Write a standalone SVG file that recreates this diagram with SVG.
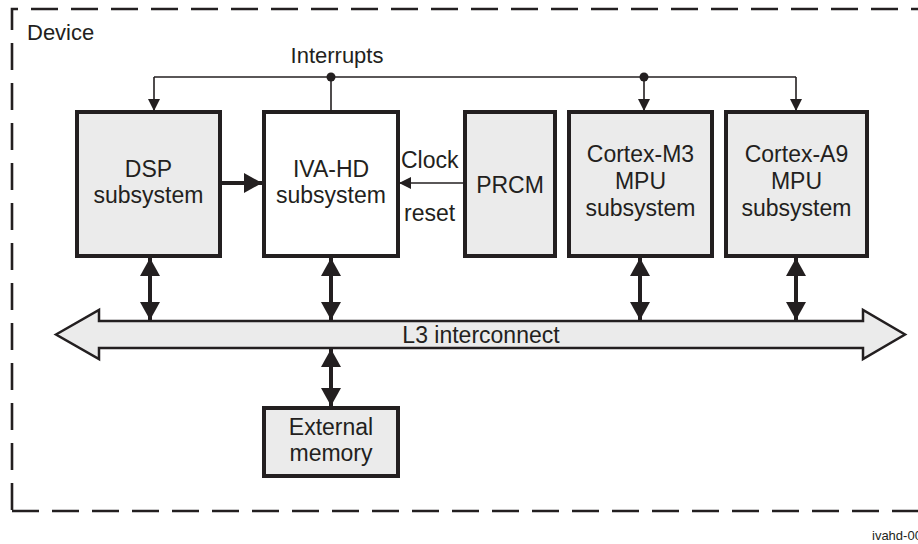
<svg xmlns="http://www.w3.org/2000/svg" width="918" height="544" viewBox="0 0 918 544">
<style>
text{font-family:"Liberation Sans",Arial,sans-serif;font-size:23px;fill:#231f20}
.box{fill:#ebebeb;stroke:#231f20;stroke-width:4}
.white{fill:#ffffff}
.thin{fill:none;stroke:#231f20;stroke-width:1.6}
.thick{fill:none;stroke:#231f20;stroke-width:4}
.c{text-anchor:middle}
</style>
<defs>
<marker id="ah" markerUnits="userSpaceOnUse" viewBox="0 0 12 12" refX="12" refY="6" markerWidth="12" markerHeight="12" orient="auto">
<path d="M0,0 L12,6 L0,12 Z" fill="#231f20"/>
</marker>
<marker id="bh" markerUnits="userSpaceOnUse" viewBox="0 0 18 20" refX="18" refY="10" markerWidth="18" markerHeight="20" orient="auto-start-reverse">
<path d="M0,0 L18,10 L0,20 Z" fill="#231f20"/>
</marker>
</defs>
<rect width="918" height="544" fill="#ffffff"/>
<g id="device">
<path d="M12,510 L12,9 L918,9" fill="none" stroke="#231f20" stroke-width="2.6" stroke-dasharray="27,13"/>
<path d="M12,511 L918,511" fill="none" stroke="#231f20" stroke-width="2.6" stroke-dasharray="27,13"/>
<text x="27" y="40" style="font-size:22px">Device</text>
</g>
<g id="dsp"><rect class="box" x="77" y="112" width="143" height="144"/><text class="c" x="148.5" y="177">DSP</text><text class="c" x="148.5" y="203">subsystem</text></g>
<g id="ivahd"><rect class="box white" x="264" y="112" width="134" height="144"/><text class="c" x="331" y="177">IVA-HD</text><text class="c" x="331" y="203">subsystem</text></g>
<g id="prcm"><rect class="box" x="465" y="112" width="90" height="144"/><text class="c" x="510" y="193">PRCM</text></g>
<g id="m3"><rect class="box" x="569" y="112" width="143" height="144"/><text class="c" x="640.5" y="162">Cortex-M3</text><text class="c" x="640.5" y="189">MPU</text><text class="c" x="640.5" y="216">subsystem</text></g>
<g id="a9"><rect class="box" x="726" y="112" width="141" height="144"/><text class="c" x="796.5" y="162">Cortex-A9</text><text class="c" x="796.5" y="189">MPU</text><text class="c" x="796.5" y="216">subsystem</text></g>
<g id="l3"><path d="M56,334.5 L99,310 L99,321 L863,321 L863,310 L905,334.5 L863,359 L863,348 L99,348 L99,359 Z" fill="#ebebeb" stroke="#231f20" stroke-width="2.5" stroke-linejoin="miter"/><text class="c" x="481" y="343">L3 interconnect</text></g>
<g id="extmem"><rect class="box" x="264" y="408" width="134" height="68"/><text class="c" x="331" y="435">External</text><text class="c" x="331" y="461">memory</text></g>
<g id="connectors">
<path class="thin" d="M331,112 L331,77"/>
<path class="thin" d="M154,77 L796,77"/>
<path class="thin" d="M154,77 L154,111" marker-end="url(#ah)"/>
<path class="thin" d="M644,77 L644,111" marker-end="url(#ah)"/>
<path class="thin" d="M796,77 L796,111" marker-end="url(#ah)"/>
<circle cx="331" cy="77" r="4.5" fill="#231f20"/>
<circle cx="644" cy="77" r="4.5" fill="#231f20"/>
<path class="thick" d="M220,183 L262,183" marker-end="url(#bh)"/>
<path class="thin" d="M465,183 L399,183" marker-end="url(#ah)"/>
<path class="thick" d="M150,258 L150,320" marker-start="url(#bh)" marker-end="url(#bh)"/>
<path class="thick" d="M331,258 L331,320" marker-start="url(#bh)" marker-end="url(#bh)"/>
<path class="thick" d="M640,258 L640,320" marker-start="url(#bh)" marker-end="url(#bh)"/>
<path class="thick" d="M796,258 L796,320" marker-start="url(#bh)" marker-end="url(#bh)"/>
<path class="thick" d="M331,349 L331,406" marker-start="url(#bh)" marker-end="url(#bh)"/>
</g>
<g id="labels">
<text class="c" x="337" y="63" style="font-size:22px">Interrupts</text>
<text x="401" y="168">Clock</text>
<text x="404" y="221">reset</text>
<text x="872" y="540" style="font-size:13px">ivahd-00</text>
</g>
</svg>
